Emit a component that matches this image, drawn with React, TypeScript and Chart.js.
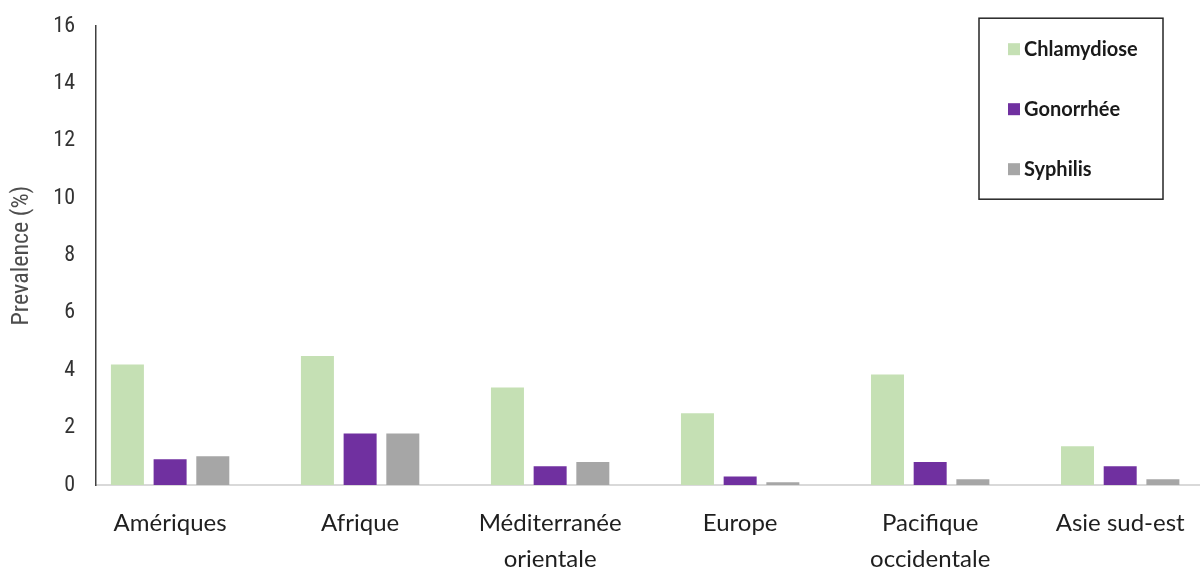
import { useEffect, useRef } from "react";
import { Chart, registerables } from "chart.js";

Chart.register(...registerables);

const categories: string[][] = [
  ["Amériques"],
  ["Afrique"],
  ["Méditerranée", "orientale"],
  ["Europe"],
  ["Pacifique", "occidentale"],
  ["Asie sud-est"],
];
const seriesNames = ["Chlamydiose", "Gonorrhée", "Syphilis"];
const chlamydiose = [4.2, 4.5, 3.4, 2.5, 3.85, 1.35];
const gonorrhee = [0.9, 1.8, 0.65, 0.3, 0.8, 0.65];
const syphilis = [1.0, 1.8, 0.8, 0.1, 0.2, 0.2];
const seriesColors = ["#c5e0b4", "#7030a0", "#a6a6a6"];
const yTicks = [0, 2, 4, 6, 8, 10, 12, 14, 16];

const boxLegend = {
  id: "boxLegend",
  afterDraw(chart: any) {
    const ctx = chart.ctx;
    const area = chart.chartArea;
    const left = area.right - 221;
    const top = area.top - 8;
    ctx.save();
    ctx.strokeStyle = "#262626";
    ctx.lineWidth = 1.5;
    ctx.strokeRect(left, top, 184, 181);
    chart.data.datasets.forEach((ds: any, i: number) => {
      const y = top + 31 + i * 60;
      ctx.fillStyle = ds.backgroundColor;
      ctx.fillRect(left + 29, y - 6, 12, 12);
      ctx.fillStyle = "#1a1a1a";
      ctx.font = "bold 20px Lato, 'Open Sans', sans-serif";
      ctx.textBaseline = "middle";
      ctx.textAlign = "left";
      ctx.fillText(ds.label, left + 45, y);
    });
    ctx.restore();
  },
};

export default function App() {
  const ref = useRef<HTMLCanvasElement>(null);
  useEffect(() => {
    document.body.style.margin = "0";
    const seriesData = [chlamydiose, gonorrhee, syphilis];
    const chart = new Chart(ref.current!, {
      type: "bar",
      data: {
        datasets: seriesNames.map((name, s) => ({
          label: name,
          data: seriesData[s].map((v, i) => ({ x: i, y: v })),
          backgroundColor: seriesColors[s],
          borderWidth: 0,
          categoryPercentage: 0.674,
          barPercentage: 0.773,
        })),
      },
      options: {
        responsive: false,
        animation: false,
        layout: { padding: { top: 17, right: 0, left: 0, bottom: 0 } },
        plugins: { legend: { display: false }, tooltip: { enabled: false } },
        scales: {
          x: {
            type: "linear",
            offset: false,
            min: -0.39,
            max: 5.42,
            grid: { display: false, offset: false },
            border: { display: true, color: "#d9d9d9", width: 2 },
            afterBuildTicks: (scale: any) => {
              scale.ticks = categories.map((_, i) => ({ value: i }));
            },
            afterFit: (scale: any) => {
              scale.height = 85;
            },
            ticks: {
              autoSkip: false,
              maxRotation: 0,
              minRotation: 0,
              padding: 12,
              color: "#1f1f1f",
              font: { family: "Lato, 'Open Sans', sans-serif", size: 24, lineHeight: 1.5 },
              callback: (v: any) => categories[v as number] ?? "",
            },
          },
          y: {
            min: 0,
            max: 16,
            grid: { display: false },
            border: { display: true, color: "#404040", width: 1.5 },
            afterBuildTicks: (scale: any) => {
              scale.ticks = yTicks.map((v) => ({ value: v }));
            },
            afterFit: (scale: any) => {
              scale.width = 96;
            },
            ticks: {
              padding: 13,
              color: "#333333",
              font: {
                family: "'Liberation Sans Narrow', 'Roboto Condensed', 'DejaVu Sans Condensed', sans-serif",
                size: 22,
              },
            },
            title: {
              display: true,
              text: "Prevalence (%)",
              color: "#4d4d4d",
              font: {
                family: "'Liberation Sans Narrow', 'Roboto Condensed', 'DejaVu Sans Condensed', sans-serif",
                size: 24,
              },
              padding: { top: 8, bottom: 0 },
            },
          },
        },
      },
      plugins: [boxLegend],
    });
    return () => chart.destroy();
  }, []);
  return <canvas ref={ref} width={1200} height={570} style={{ display: "block" }} />;
}
